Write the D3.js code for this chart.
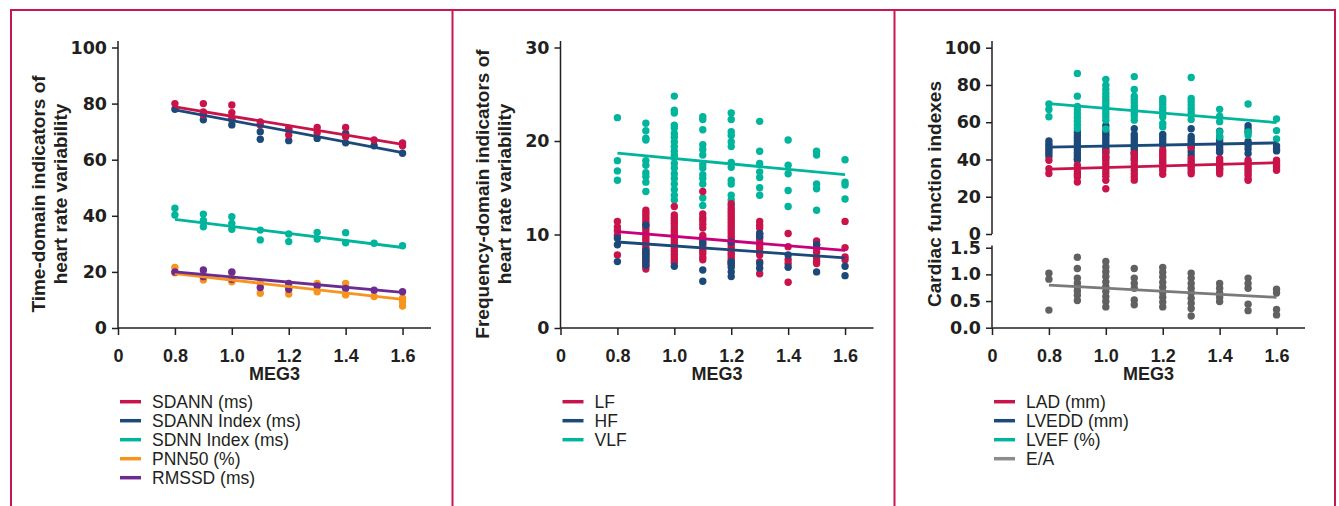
<!DOCTYPE html>
<html>
<head>
<meta charset="utf-8">
<script src="https://cdn.jsdelivr.net/npm/d3@7"></script>
<style>
  body { margin: 0; background: #fff; }
  svg { display: block; }
</style>
</head>
<body>
<div id="chart"></div>
<script>
// ---- data ----
const xTickValues = [0.6, 0.8, 1.0, 1.2, 1.4, 1.6];
const xTickLabels = ["0", "0.8", "1.0", "1.2", "1.4", "1.6"];
const fitX = [0.8, 1.6];

// time-domain panel
const sdann = [[0.8, [80]], [0.9, [80, 77, 76]], [1.0, [79.5, 76.8, 74.7]], [1.1, [73.5, 72.4]],
  [1.2, [71.2, 68.8]], [1.3, [71.5, 69.6]], [1.4, [71.5, 68.2]], [1.5, [67]], [1.6, [66, 65]]];
const sdannIndex = [[0.8, [78]], [0.9, [76, 74.2]], [1.0, [74.2, 72.4]], [1.1, [70, 67.3]],
  [1.2, [70.6, 66.8]], [1.3, [67.6]], [1.4, [69.4, 66]], [1.5, [65]], [1.6, [62.3]]];
const sdnnIndex = [[0.8, [42.7, 40.3]], [0.9, [40.6, 38.3, 36.1]], [1.0, [39.7, 37.3, 35.2]], [1.1, [34.9, 31.4]],
  [1.2, [33.5, 30.8]], [1.3, [34.1, 31.7]], [1.4, [34, 30.4]], [1.5, [30.2]], [1.6, [29.3]]];
const pnn50 = [[0.8, [21.6, 19.7]], [0.9, [18.9, 17.1]], [1.0, [19.7, 16.5]], [1.1, [15.9, 12.4]],
  [1.2, [14.5, 12.1]], [1.3, [15.9, 12.9]], [1.4, [15.9, 11.8]], [1.5, [11.2]], [1.6, [10.6, 9.4, 7.8]]];
const rmssd = [[0.8, [20]], [0.9, [20.7, 18.3]], [1.0, [20, 17.4]], [1.1, [14.4]],
  [1.2, [15.9, 13.8]], [1.3, [15]], [1.4, [14.1]], [1.5, [13.5]], [1.6, [12.9]]];
const timeFits = { sdann: [78.8, 65.5], sdannIndex: [77.8, 62.5], sdnnIndex: [38.7, 28.7], pnn50: [19.4, 10.2], rmssd: [20, 12.7] };

// frequency-domain panel
const lf = [[0.8, [11.4, 10.8, 10.4, 9.9, 7.8]],
  [0.9, [12.6, 12.3, 12.0, 11.7, 11.4, 11.1, 10.8, 10.5, 10.2, 9.9, 9.6, 9.3, 9.0, 8.7, 8.4, 8.1, 7.8, 7.5, 7.2, 6.9, 6.6, 6.3]],
  [1.0, [13.0, 12.1, 11.8, 11.5, 11.2, 10.9, 10.6, 10.3, 10.0, 9.7, 9.4, 9.1, 8.8, 8.5, 8.2, 7.9, 7.6, 7.3, 7.0]],
  [1.1, [14.6, 12.2, 11.8, 11.5, 11.1, 10.7, 9.9, 9.6, 9.3, 8.9, 8.6, 8.3, 8.0, 7.6, 7.3]],
  [1.2, [13.3, 12.8, 12.5, 12.2, 11.9, 11.6, 11.3, 11.0, 10.7, 10.4, 10.1, 9.8, 9.5, 9.2, 8.9, 8.6, 8.3, 8.0, 7.7, 7.4, 7.1, 6.8]],
  [1.3, [11.4, 11.0, 10.7, 10.1, 9.6, 9.2, 8.8, 8.5, 8.1, 7.8, 7.1, 5.8]],
  [1.4, [10.1, 8.7, 7.3, 6.9, 4.9]],
  [1.5, [9.3, 8.9, 8.5, 8.1, 7.5, 7.1, 6.9]],
  [1.6, [11.4, 8.6, 7.6, 7.3]]];
const hf = [[0.8, [9.6, 8.9, 7.1]], [0.9, [11, 8.3, 8, 7.7, 7.4, 7.1, 6.7]], [1.0, [6.6]],
  [1.1, [9.1, 6.2, 5]], [1.2, [9.2, 7.1, 6.9, 6.5, 6.0, 5.5]], [1.3, [10.1, 9.8, 6.9, 6.4]],
  [1.4, [7.8, 6.5]], [1.5, [8.9, 6]], [1.6, [6.6, 5.6]]];
const vlf = [[0.8, [22.5, 17.9, 16.8, 15.8]],
  [0.9, [21.9, 21.1, 20.3, 20.1, 17.9, 17.4, 16.6, 16.2, 15.6, 14.6]],
  [1.0, [24.8, 23.3, 23.0, 21.7, 21.4, 20.8, 20.4, 19.9, 19.4, 18.9, 18.5, 18.2, 17.6, 17.1, 16.5, 16.0, 15.4, 14.8, 14.2, 13.7]],
  [1.1, [22.6, 22.3, 21.2, 19.6, 19.1, 18.5, 17.5, 17.1, 16.4, 16.0, 15.4, 13.9, 13.1]],
  [1.2, [23.0, 22.3, 21.0, 20.6, 19.9, 19.4, 17.7, 17.2, 15.8, 15.4, 14.2, 13.7, 13.1]],
  [1.3, [22.1, 18.9, 17.6, 16.7, 16.1, 15.0, 14.2]],
  [1.4, [20.1, 17.4, 16.5, 14.7, 13.0]],
  [1.5, [18.9, 18.5, 15.4, 14.9, 12.6]],
  [1.6, [18.0, 15.6, 15.3, 13.8]]];
const freqFits = { lf: [10.3, 8.3], hf: [9.2, 7.5], vlf: [18.7, 16.4] };

// cardiac function panel
const lad = [[0.8, [39.6, 35, 32.5]], [0.9, [36.9, 35.1, 33.3, 31.9, 30.6, 27.9]],
  [1.0, [44, 41.5, 39.5, 37.8, 36.1, 34.4, 32.7, 31, 28.8, 24.3]],
  [1.1, [43.2, 41.4, 39.6, 37.8, 36, 34.2, 32.4, 30.6, 28.9]],
  [1.2, [45, 43.6, 42.3, 40.9, 39.6, 38.2, 36.9, 35.5, 34.2, 32.1]],
  [1.3, [46.7, 40.4, 39, 37.7, 36.3, 35, 33.6, 32.3]],
  [1.4, [40.4, 39, 37.7, 36.3, 35, 33.6, 32.3]],
  [1.5, [39.6, 38.2, 36.9, 35.5, 34.2, 32.8, 31.5, 29.7, 28.8]],
  [1.6, [39.6, 38.2, 36.9, 35.5, 34.2]]];
const lvedd = [[0.8, [50, 48.5, 47.2, 45.8, 44.6, 43.2, 41.8]],
  [0.9, [54.8, 53.2, 51.6, 50, 48.4, 46.8, 45.2, 43.6, 42, 40.4, 39.7]],
  [1.0, [58.1, 55.1, 53.6, 52.2, 50.7, 49.2, 47.7, 46.2, 44.8, 43.3, 40.8]],
  [1.1, [56.5, 53.4, 52, 50.6, 49, 47.5, 46.4, 45.2, 43.9, 42.7, 40.4]],
  [1.2, [53.4, 52, 50.6, 49, 47.5]],
  [1.3, [56.5, 52.3, 50.8, 49.3, 47.8, 46.2, 44.2, 42.1]],
  [1.4, [55.2, 52.2, 50.7, 49.3, 47.8, 46.3, 45, 43.9, 34.9]],
  [1.5, [58.1, 56.4, 54.7, 49.7, 47.6, 45.6, 43.2]],
  [1.6, [47.2, 45.8, 44.6]]];
const lvef = [[0.8, [69.8, 66.8, 62.9]],
  [0.9, [86.2, 74, 68.5, 66.5, 64.5, 62.5, 60.5, 58.5, 56.6]],
  [1.0, [83, 79.9, 77.6, 75.4, 73.6, 71.8, 70, 68.4, 66.7, 64.8, 62.9, 61.1, 56.4]],
  [1.1, [84.5, 77.6, 74, 72.2, 70.4, 68.6, 66.8, 65, 63.4, 61.1]],
  [1.2, [72.7, 71.2, 69.7, 67.8, 66.2, 64.4, 62.8, 59.3, 57.5]],
  [1.3, [84, 72.7, 71, 69.2, 67.3, 65.5, 63.8, 61.4]],
  [1.4, [66.9, 63.2, 60.3, 54.8, 52.1]],
  [1.5, [69.8, 54.8, 53]],
  [1.6, [61.8, 55.5, 51]]];
const ea = [[0.8, [1.02, 0.91, 0.33]],
  [0.9, [1.32, 1.11, 0.93, 0.84, 0.77, 0.69, 0.61, 0.51]],
  [1.0, [1.24, 1.14, 1.05, 0.96, 0.86, 0.77, 0.68, 0.58, 0.49, 0.39]],
  [1.1, [1.11, 0.93, 0.83, 0.74, 0.52, 0.43]],
  [1.2, [1.13, 1.04, 0.95, 0.85, 0.76, 0.66, 0.57, 0.48, 0.39]],
  [1.3, [1.02, 0.93, 0.83, 0.74, 0.65, 0.55, 0.46, 0.36, 0.22]],
  [1.4, [0.83, 0.74, 0.65, 0.57, 0.49]],
  [1.5, [0.93, 0.83, 0.74, 0.44, 0.32]],
  [1.6, [0.72, 0.65, 0.34, 0.24]]];
const cardiacFits = { lad: [34.8, 38.3], lvedd: [46.6, 48.9], lvef: [70, 59.8], ea: [0.8, 0.57] };

// ---- colours ----
const red = "#c8144a", blue = "#1b4a7a", teal = "#00b59c", orange = "#f7941d",
  purple = "#6b2c91", grey = "#616161", pink = "#c8007a", frame = "#c8174e", ink = "#231f20";

const pts = cols => cols.flatMap(([x, ys]) => ys.map(y => [x, y]));

const svg = d3.select("#chart").append("svg")
  .attr("width", 1339)
  .attr("height", 506);

// panel frame
svg.append("path")
  .attr("d", "M11,506V10H1335V506M452.5,10V506M894.5,10V506")
  .attr("fill", "none")
  .attr("stroke", frame)
  .attr("stroke-width", 2);

const xWidth = 313, xAxisY = 328;

function xAxis(ox) {
  const x = d3.scaleLinear().domain([0.6, 1.7]).range([ox, ox + xWidth]);
  const g = svg.append("g").attr("transform", `translate(0,${xAxisY})`)
    .call(d3.axisBottom(x).tickValues(xTickValues)
      .tickFormat((d, i) => xTickLabels[i]).tickSize(7).tickPadding(14).tickSizeOuter(0));
  g.select(".domain").remove();
  g.selectAll("line").attr("stroke", ink).attr("stroke-width", 1.5);
  g.selectAll("text").attr("fill", ink).style("font", "bold 18px 'Liberation Sans', Arial, sans-serif");
  svg.append("line").attr("x1", ox).attr("x2", ox + xWidth).attr("y1", xAxisY).attr("y2", xAxisY)
    .attr("stroke", ink).attr("stroke-width", 1.5);
  svg.append("text").attr("x", ox + xWidth / 2).attr("y", 380)
    .attr("text-anchor", "middle").attr("fill", ink)
    .style("font", "bold 18px 'Liberation Sans', Arial, sans-serif")
    .text("MEG3");
  return x;
}

function yAxis(ox, y, ticks, fmt, top) {
  const g = svg.append("g").attr("transform", `translate(${ox},0)`)
    .call(d3.axisLeft(y).tickValues(ticks).tickFormat(fmt).tickSize(6).tickPadding(5).tickSizeOuter(0));
  g.select(".domain").remove();
  g.selectAll("line").attr("stroke", ink).attr("stroke-width", 1.5);
  g.selectAll("text").attr("fill", ink).style("font", "bold 17.5px 'DejaVu Sans', sans-serif");
  svg.append("line").attr("x1", ox).attr("x2", ox).attr("y1", y.range()[0]).attr("y2", top)
    .attr("stroke", ink).attr("stroke-width", 1.5);
}

function yTitle(ox, lines) {
  const t = svg.append("text")
    .attr("transform", `translate(${ox},194) rotate(-90)`)
    .attr("text-anchor", "middle").attr("fill", ink)
    .style("font", "bold 19px 'Liberation Sans', Arial, sans-serif");
  lines.forEach((s, i) => t.append("tspan").attr("x", 0).attr("y", i * 22).text(s));
}

function scatter(x, y, cols, color) {
  svg.append("g").selectAll("circle").data(pts(cols)).join("circle")
    .attr("cx", d => x(d[0])).attr("cy", d => y(d[1])).attr("r", 3.7).attr("fill", color);
}

function fit(x, y, vals, color) {
  svg.append("path")
    .datum(fitX.map((v, i) => [v, vals[i]]))
    .attr("d", d3.line().x(d => x(d[0])).y(d => y(d[1])))
    .attr("stroke", color).attr("stroke-width", 2.8).attr("fill", "none");
}

function legend(ox, items) {
  const g = svg.append("g");
  items.forEach(([label, color], i) => {
    const cy = 401.7 + i * 19;
    g.append("line").attr("x1", ox + 2).attr("x2", ox + 23).attr("y1", cy).attr("y2", cy)
      .attr("stroke", color).attr("stroke-width", 3.5);
    g.append("text").attr("x", ox + 34).attr("y", cy + 6).attr("fill", ink)
      .style("font", "17.5px 'Liberation Sans', Arial, sans-serif").text(label);
  });
}

// ---- panel 1: time domain ----
{
  const ox = 118;
  const x = xAxis(ox);
  const y = d3.scaleLinear().domain([0, 100]).range([328, 47.5]);
  yAxis(ox, y, [0, 20, 40, 60, 80, 100], d3.format("d"), 41);
  yTitle(ox - 73, ["Time-domain indicators of", "heart rate variability"]);
  scatter(x, y, sdannIndex, blue);
  scatter(x, y, sdann, red);
  scatter(x, y, sdnnIndex, teal);
  scatter(x, y, pnn50, orange);
  scatter(x, y, rmssd, purple);
  fit(x, y, timeFits.sdannIndex, blue);
  fit(x, y, timeFits.sdann, red);
  fit(x, y, timeFits.sdnnIndex, teal);
  fit(x, y, timeFits.pnn50, orange);
  fit(x, y, timeFits.rmssd, purple);
  legend(ox, [["SDANN (ms)", red], ["SDANN Index (ms)", blue], ["SDNN Index (ms)", teal],
    ["PNN50 (%)", orange], ["RMSSD (ms)", purple]]);
}

// ---- panel 2: frequency domain ----
{
  const ox = 560.5;
  const x = xAxis(ox);
  const y = d3.scaleLinear().domain([0, 30]).range([328, 47.5]);
  yAxis(ox, y, [0, 10, 20, 30], d3.format("d"), 41);
  yTitle(ox - 72, ["Frequency-domain indicators of", "heart rate variability"]);
  scatter(x, y, vlf, teal);
  scatter(x, y, lf, red);
  scatter(x, y, hf, blue);
  fit(x, y, freqFits.vlf, teal);
  fit(x, y, freqFits.lf, pink);
  fit(x, y, freqFits.hf, blue);
  legend(ox, [["LF", red], ["HF", blue], ["VLF", teal]]);
}

// ---- panel 3: cardiac function ----
{
  const ox = 992;
  const x = xAxis(ox);
  const yTop = d3.scaleLinear().domain([0, 100]).range([234, 47.7]);
  const yBot = d3.scaleLinear().domain([0, 1.5]).range([327.7, 247.7]);
  yAxis(ox, yTop, [0, 20, 40, 60, 80, 100], d3.format("d"), 41);
  yAxis(ox, yBot, [0, 0.5, 1.0, 1.5], d3.format(".1f"), 245.5);
  yTitle(ox - 51, ["Cardiac function indexes"]);
  scatter(x, yTop, lvedd, blue);
  scatter(x, yTop, lad, red);
  scatter(x, yTop, lvef, teal);
  scatter(x, yBot, ea, grey);
  fit(x, yTop, cardiacFits.lvedd, blue);
  fit(x, yTop, cardiacFits.lad, red);
  fit(x, yTop, cardiacFits.lvef, teal);
  fit(x, yBot, cardiacFits.ea, "#7a7a7a");
  legend(ox, [["LAD (mm)", red], ["LVEDD (mm)", blue], ["LVEF (%)", teal], ["E/A", "#8c8c8c"]]);
}
</script>
</body>
</html>
